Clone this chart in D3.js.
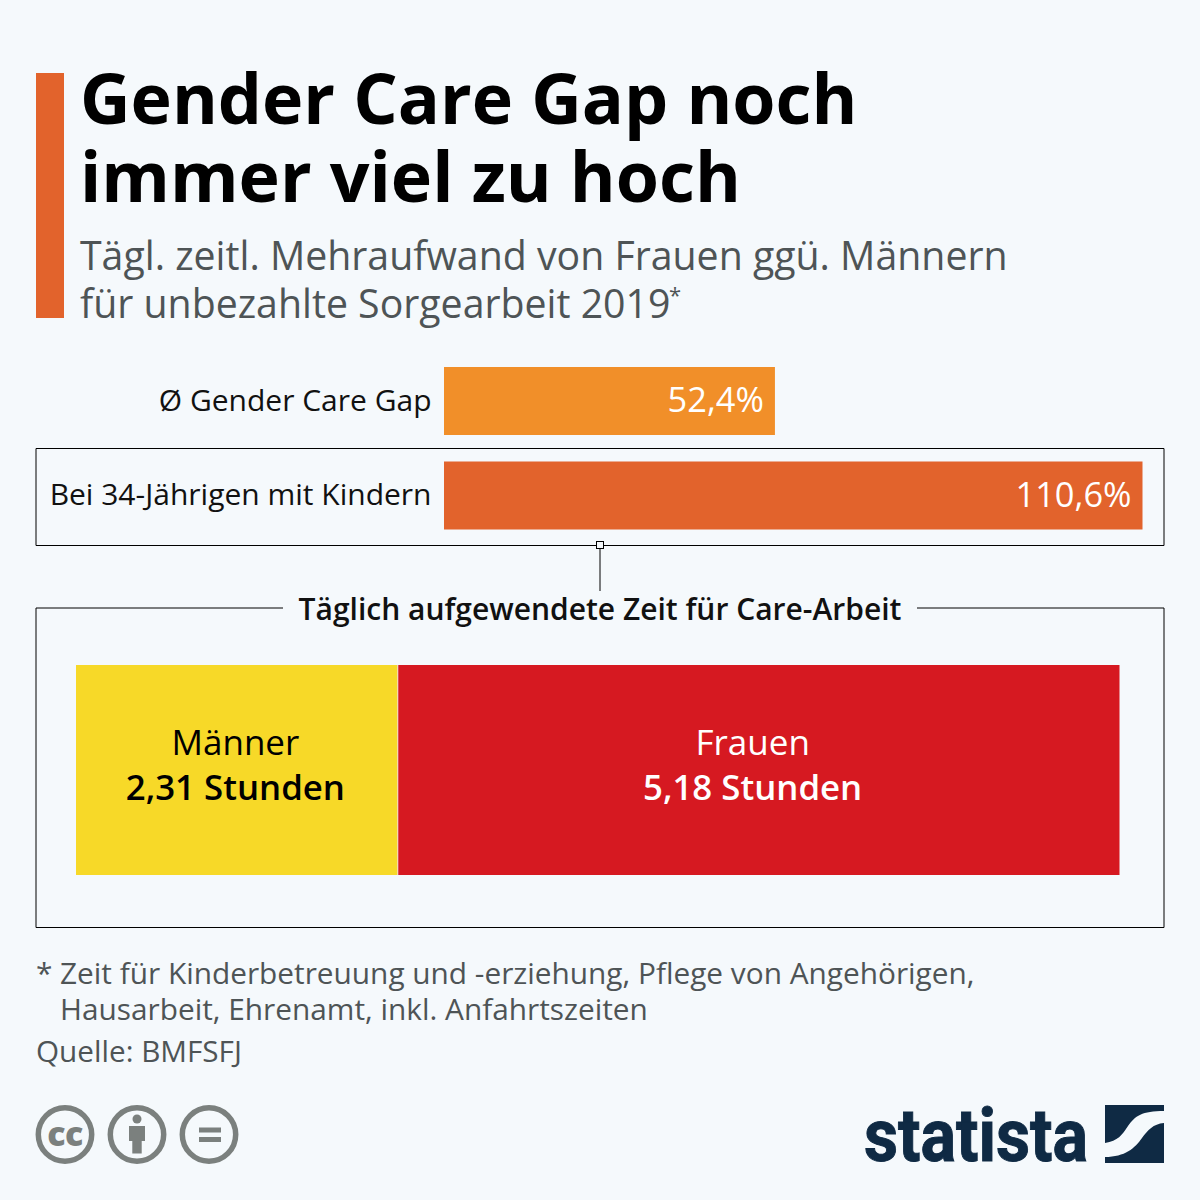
<!DOCTYPE html>
<html>
<head>
<meta charset="utf-8">
<script src="https://cdn.jsdelivr.net/npm/d3@7"></script>
<style>
html, body { margin: 0; padding: 0; background: #f5f9fc; }
svg { display: block; }
text { font-family: "Open Sans", sans-serif; }
</style>
</head>
<body>
<div id="chart"></div>
<script>
// values
var gapLabels = ["Ø Gender Care Gap", "Bei 34-Jährigen mit Kindern"];
var gapValues = [52.4, 110.6];
var gapColors = ["#f18f29", "#e2632c"];
var careLabels = ["Männer", "Frauen"];
var careValues = [2.31, 5.18];
var careColors = ["#f7d928", "#d61921"];
var careText = ["#000000", "#ffffff"];
var titleLines = ["Gender Care Gap noch", "immer viel zu hoch"];
var subtitleLines = ["Tägl. zeitl. Mehraufwand von Frauen ggü. Männern", "für unbezahlte Sorgearbeit 2019"];
var noteLines = ["Zeit für Kinderbetreuung und -erziehung, Pflege von Angehörigen,", "Hausarbeit, Ehrenamt, inkl. Anfahrtszeiten"];

var bg = "#f5f9fc";
var fmt = function(v, d) { return v.toFixed(d).replace(".", ","); };

var svg = d3.select("#chart").append("svg").attr("width", 1200).attr("height", 1200);
svg.append("rect").attr("width", 1200).attr("height", 1200).attr("fill", bg);

//======= header
svg.append("rect").attr("x", 36).attr("y", 73).attr("width", 28).attr("height", 245).attr("fill", "#e2632c");

svg.selectAll(".title").data(titleLines).enter().append("text")
   .attr("class", "title")
   .attr("x", 80)
   .attr("y", function(d, i) { return 124 + i * 78; })
   .attr("font-size", 69.9).attr("font-weight", 700).attr("fill", "#000")
   .text(function(d) { return d; });

svg.selectAll(".subtitle").data(subtitleLines).enter().append("text")
   .attr("class", "subtitle")
   .attr("x", 80)
   .attr("y", function(d, i) { return 270 + i * 48; })
   .attr("font-size", 39.25).attr("fill", "#4e5456")
   .text(function(d) { return d; });

svg.append("text").attr("x", 669).attr("y", 303).attr("font-size", 22).attr("fill", "#4e5456").text("*");

//======= box around the second bar
svg.append("path").attr("d", "M36,448.5H1164V545.5H36Z")
   .attr("fill", "none").attr("stroke", "#000").attr("stroke-width", 1);

//======= top bars
var x = d3.scaleLinear().domain([0, 110.6]).range([444, 1142.5]);
var y = d3.scaleOrdinal().domain(gapLabels).range([367, 461.5]);
var barH = 68;

svg.selectAll(".gapbar").data(gapValues).enter().append("rect")
   .attr("class", "gapbar")
   .attr("x", x(0))
   .attr("y", function(d, i) { return y(gapLabels[i]); })
   .attr("width", function(d) { return x(d) - x(0); })
   .attr("height", barH)
   .attr("fill", function(d, i) { return gapColors[i]; });

svg.selectAll(".gaplabel").data(gapLabels).enter().append("text")
   .attr("class", "gaplabel")
   .attr("x", 431.5)
   .attr("y", function(d) { return y(d) + 43.5; })
   .attr("text-anchor", "end").attr("font-size", 30).attr("fill", "#111")
   .text(function(d) { return d; });

svg.selectAll(".gapvalue").data(gapValues).enter().append("text")
   .attr("class", "gapvalue")
   .attr("x", function(d) { return x(d) - 11; })
   .attr("y", function(d, i) { return y(gapLabels[i]) + 45; })
   .attr("text-anchor", "end").attr("font-size", 34.4).attr("fill", "#fff")
   .text(function(d) { return fmt(d, 1) + "%"; });

//======= connector
svg.append("line").attr("x1", 600).attr("x2", 600).attr("y1", 548).attr("y2", 591)
   .attr("stroke", "#000").attr("stroke-width", 1);
svg.append("rect").attr("x", 596.5).attr("y", 541.5).attr("width", 7).attr("height", 7)
   .attr("fill", bg).attr("stroke", "#000").attr("stroke-width", 1);

//======= lower box with open top edge
svg.append("path").attr("d", "M283,608H36V927.5H1164V608H917")
   .attr("fill", "none").attr("stroke", "#000").attr("stroke-width", 1);
svg.append("text").attr("x", 600).attr("y", 620).attr("text-anchor", "middle")
   .attr("font-size", 30).attr("font-weight", 600).attr("fill", "#111")
   .text("Täglich aufgewendete Zeit für Care-Arbeit");

//======= stacked bar
var xc = d3.scaleLinear().domain([0, d3.sum(careValues)]).range([76, 1119.5]);
var starts = [0].concat(Array.from(d3.cumsum(careValues)));

// the labels sit a little left of each segment's middle
var labelX = function(i) { return xc(starts[i] + careValues[i] / 2) - (i == 0 ? 1.5 : 6); };

svg.selectAll(".carebar").data(careValues).enter().append("rect")
   .attr("class", "carebar")
   .attr("x", function(d, i) { return xc(starts[i]); })
   .attr("y", 665)
   .attr("width", function(d) { return xc(d) - xc(0); })
   .attr("height", 210)
   .attr("fill", function(d, i) { return careColors[i]; });

// thin light gap between the two segments
svg.append("line").attr("x1", xc(careValues[0])).attr("x2", xc(careValues[0]))
   .attr("y1", 665).attr("y2", 875)
   .attr("stroke", bg).attr("stroke-width", 0.8);

svg.selectAll(".carename").data(careLabels).enter().append("text")
   .attr("class", "carename")
   .attr("x", function(d, i) { return labelX(i); })
   .attr("y", 755)
   .attr("text-anchor", "middle").attr("font-size", 35)
   .attr("fill", function(d, i) { return careText[i]; })
   .text(function(d) { return d; });

svg.selectAll(".carevalue").data(careValues).enter().append("text")
   .attr("class", "carevalue")
   .attr("x", function(d, i) { return labelX(i); })
   .attr("y", 800)
   .attr("text-anchor", "middle").attr("font-size", 34.8).attr("font-weight", 600)
   .attr("fill", function(d, i) { return careText[i]; })
   .text(function(d) { return fmt(d, 2) + " Stunden"; });

//======= footnote
svg.append("text").attr("x", 36).attr("y", 984).attr("font-size", 29.8).attr("fill", "#4e5456").text("*");
svg.selectAll(".note").data(noteLines).enter().append("text")
   .attr("class", "note")
   .attr("x", 60)
   .attr("y", function(d, i) { return 984 + i * 36; })
   .attr("font-size", 29.8).attr("fill", "#4e5456")
   .text(function(d) { return d; });
svg.append("text").attr("x", 36).attr("y", 1062).attr("font-size", 29.7).attr("fill", "#4e5456").text("Quelle: BMFSFJ");

//======= licence icons
var grey = "#7b807e";
[65, 137, 209].forEach(function(cx) {
  svg.append("circle").attr("cx", cx).attr("cy", 1134.5).attr("r", 26.7)
     .attr("fill", "none").attr("stroke", grey).attr("stroke-width", 5.5);
});
svg.append("text").attr("x", 65).attr("y", 1146).attr("text-anchor", "middle")
   .attr("font-size", 34).attr("font-weight", 800).attr("letter-spacing", -0.5).attr("fill", grey).text("cc");
svg.append("circle").attr("cx", 137).attr("cy", 1119).attr("r", 4.5).attr("fill", grey);
svg.append("path").attr("fill", grey)
   .attr("d", "M129,1126H145V1141H141.7V1153.5H132.3V1141H129Z");
svg.append("rect").attr("x", 199).attr("y", 1127.5).attr("width", 22).attr("height", 5).attr("fill", grey);
svg.append("rect").attr("x", 199).attr("y", 1137).attr("width", 22).attr("height", 5).attr("fill", grey);

//======= logo
svg.append("text").attr("x", 864).attr("y", 1161)
   .attr("font-size", 74).attr("font-weight", 700).attr("fill", "#0f2a44")
   .attr("stroke", "#0f2a44").attr("stroke-width", 1)
   .attr("textLength", 224).attr("lengthAdjust", "spacingAndGlyphs")
   .style("font-family", "Roboto, sans-serif")
   .text("statista");
svg.append("path").attr("fill", "#0f2a44")
   .attr("d", "M1105,1105H1164V1111C1142,1111 1135,1116 1128,1126C1122,1135 1118,1141 1105,1143Z");
svg.append("path").attr("fill", "#0f2a44")
   .attr("d", "M1164,1123V1163H1105V1157C1125,1157 1135,1148 1142,1138C1148,1130 1153,1124 1164,1123Z");
</script>
</body>
</html>
